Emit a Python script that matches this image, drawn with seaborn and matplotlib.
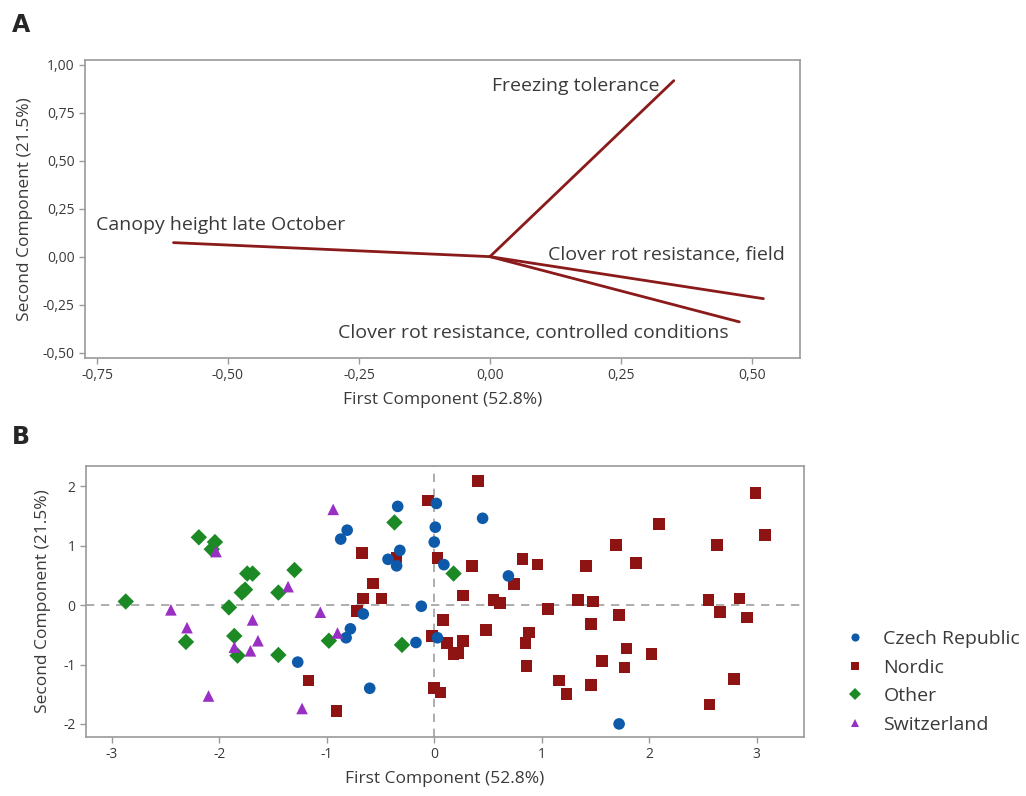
import pandas as pd
import seaborn as sns
import matplotlib.pyplot as plt
from matplotlib.ticker import FuncFormatter

# Panel A: loadings of the four traits
traits = ["Freezing tolerance", "Canopy height late October",
          "Clover rot resistance, field", "Clover rot resistance, controlled conditions"]
load_pc1 = [0.351, -0.604, 0.522, 0.476]
load_pc2 = [0.917, 0.073, -0.219, -0.340]

# Panel B: scores by origin
czech_pc1 = [-0.34, -0.81, -0.87, -0.32, -0.43, -0.35, 0.02, 0.01, 0.00, -0.12, -0.66,
             -0.78, -0.82, -0.17, -1.27, -0.60, 0.03, 0.09, 0.45, 0.69, 1.72]
czech_pc2 = [1.66, 1.26, 1.11, 0.92, 0.77, 0.66, 1.71, 1.31, 1.06, -0.02, -0.15,
             -0.40, -0.55, -0.63, -0.96, -1.40, -0.55, 0.68, 1.46, 0.49, -2.00]

nordic_pc1 = [-0.06, -0.67, -0.35, 0.03, -0.57, -0.66, -0.49, -0.72, -0.02, -1.17, -0.91,
              0.00, 0.08, 0.41, 0.35, 0.27, 0.55, 0.61, 0.82, 0.96, 0.74, 1.06, 1.34,
              1.48, 1.41, 1.69, 1.88, 2.09, 2.99, 3.08, 2.63, 2.55, 2.84, 2.66, 2.91,
              1.72, 1.46, 0.48, 0.88, 0.85, 0.27, 0.12, 0.18, 0.22, 0.86, 1.79, 1.56,
              1.77, 2.02, 1.16, 1.23, 1.46, 2.79, 2.56, 0.06]
nordic_pc2 = [1.76, 0.88, 0.80, 0.79, 0.36, 0.11, 0.11, -0.10, -0.52, -1.27, -1.78,
              -1.40, -0.25, 2.09, 0.66, 0.16, 0.08, 0.03, 0.78, 0.68, 0.35, -0.07, 0.08,
              0.06, 0.66, 1.01, 0.71, 1.36, 1.89, 1.18, 1.01, 0.08, 0.11, -0.12, -0.21,
              -0.17, -0.32, -0.42, -0.46, -0.64, -0.60, -0.64, -0.83, -0.81, -1.02, -0.73, -0.94,
              -1.05, -0.82, -1.27, -1.50, -1.35, -1.24, -1.67, -1.47]

other_pc1 = [-2.87, -2.19, -2.04, -2.07, -1.74, -1.69, -1.79, -1.76, -1.30, -1.45,
             -1.91, -2.31, -1.86, -1.83, -1.45, -0.98, -0.37, -0.30, 0.18]
other_pc2 = [0.06, 1.14, 1.06, 0.94, 0.53, 0.53, 0.21, 0.26, 0.59, 0.21,
             -0.04, -0.62, -0.52, -0.85, -0.84, -0.60, 1.39, -0.67, 0.53]

swiss_pc1 = [-0.94, -2.03, -1.36, -2.45, -2.30, -1.69, -1.64, -1.86, -1.71, -1.06,
             -0.90, -2.10, -1.23]
swiss_pc2 = [1.61, 0.90, 0.31, -0.08, -0.38, -0.25, -0.60, -0.71, -0.77, -0.12,
             -0.47, -1.53, -1.74]

origins = ["Czech Republic", "Nordic", "Other", "Switzerland"]
colors = {"Czech Republic": "#0d5aab", "Nordic": "#8e1414",
          "Other": "#1c8a24", "Switzerland": "#9a2fc4"}
markers = {"Czech Republic": "o", "Nordic": "s", "Other": "D", "Switzerland": "^"}

sns.set_theme(style="white")
plt.rcParams["font.family"] = ["Open Sans", "DejaVu Sans"]
txt = "#3a3a3a"
edge = "#9a9a9a"

fig = plt.figure(figsize=(10.26, 7.96), dpi=100)
axA = fig.add_axes([0.0828, 0.5503, 0.697, 0.3744])
axB = fig.add_axes([0.0838, 0.0741, 0.6998, 0.3405])

# ---- Panel A
rows = []
for t, a, b in zip(traits, load_pc1, load_pc2):
    rows.append({"trait": t, "pc1": 0.0, "pc2": 0.0, "step": 0})
    rows.append({"trait": t, "pc1": a, "pc2": b, "step": 1})
ld = pd.DataFrame(rows)
sns.lineplot(data=ld, x="pc1", y="pc2", units="trait", estimator=None, sort=False,
             color="#8b1a1a", linewidth=2, ax=axA)

axA.text(load_pc1[0] - 0.028, load_pc2[0] - 0.028, traits[0], ha="right", va="center",
         fontsize=14, color=txt)
axA.text(-0.751, 0.165, traits[1], ha="left", va="center", fontsize=14, color=txt)
axA.text(0.563, 0.009, traits[2], ha="right", va="center", fontsize=14, color=txt)
axA.text(0.455, -0.399, traits[3], ha="right", va="center", fontsize=14, color=txt)

axA.set_xlim(-0.773, 0.592)
axA.set_ylim(-0.528, 1.025)
axA.set_xticks([-0.75, -0.5, -0.25, 0, 0.25, 0.5])
axA.set_yticks([-0.5, -0.25, 0, 0.25, 0.5, 0.75, 1.0])
comma = FuncFormatter(lambda v, p: f"{v:.2f}".replace(".", ",").replace("−", "-"))
axA.xaxis.set_major_formatter(comma)
axA.yaxis.set_major_formatter(comma)
axA.set_xlabel("First Component (52.8%)", fontsize=12.5, color=txt, labelpad=6)
axA.set_ylabel("Second Component (21.5%)", fontsize=12.5, color=txt, labelpad=7)

# ---- Panel B
frames = []
for name, xs, ys in [("Nordic", nordic_pc1, nordic_pc2),
                     ("Czech Republic", czech_pc1, czech_pc2),
                     ("Other", other_pc1, other_pc2),
                     ("Switzerland", swiss_pc1, swiss_pc2)]:
    frames.append(pd.DataFrame({"pc1": xs, "pc2": ys, "origin": name}))
sc = pd.concat(frames, ignore_index=True)

axB.axhline(0, color="#a0a0a0", linestyle=(0, (5, 4)), linewidth=1.2, zorder=0)
axB.axvline(0, color="#a0a0a0", linestyle=(0, (5, 4)), linewidth=1.2, zorder=0)
sns.scatterplot(data=sc, x="pc1", y="pc2", hue="origin", style="origin",
                hue_order=origins, style_order=origins, palette=colors, markers=markers,
                s=70, linewidth=0, ax=axB)
axB.set_xlim(-3.24, 3.44)
axB.set_ylim(-2.22, 2.34)
axB.set_xticks([-3, -2, -1, 0, 1, 2, 3])
axB.set_yticks([-2, -1, 0, 1, 2])
axB.xaxis.set_major_formatter(FuncFormatter(lambda v, p: f"{v:g}".replace("−", "-")))
axB.yaxis.set_major_formatter(FuncFormatter(lambda v, p: f"{v:g}".replace("−", "-")))
axB.set_xlabel("First Component (52.8%)", fontsize=12.5, color=txt, labelpad=6)
axB.set_ylabel("Second Component (21.5%)", fontsize=12.5, color=txt, labelpad=9)
sns.move_legend(axB, "upper left", bbox_to_anchor=(1.02, 0.46), frameon=False, title=None,
                fontsize=14, markerscale=0.7, handletextpad=0.45, labelspacing=0.55)
for t in axB.get_legend().get_texts():
    t.set_color(txt)

for ax in (axA, axB):
    for s in ax.spines.values():
        s.set_visible(True)
        s.set_color(edge)
        s.set_linewidth(1.2)
    ax.tick_params(direction="out", length=4, width=1, color=edge, labelsize=10,
                   labelcolor=txt, bottom=True, left=True)

fig.text(0.012, 0.968, "A", fontsize=17, fontweight="bold", va="center", family="DejaVu Sans")
fig.text(0.012, 0.451, "B", fontsize=17, fontweight="bold", va="center", family="DejaVu Sans")

fig.savefig("out.png", dpi=100)
